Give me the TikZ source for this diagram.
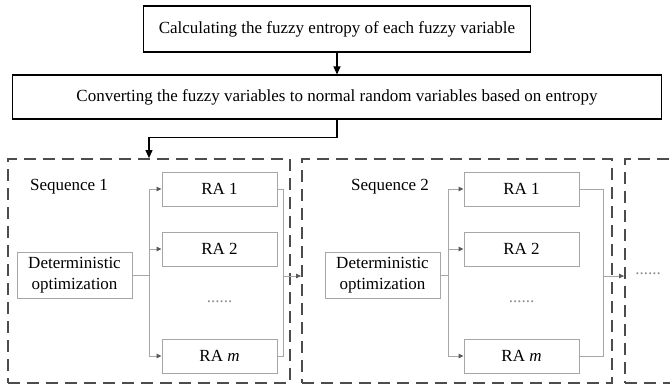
\documentclass[tikz,border=0pt]{standalone}
\usepackage{fontspec}
\setmainfont{Liberation Serif}
\usetikzlibrary{arrows.meta}

\begin{document}
\begin{tikzpicture}
[x=1pt,y=-1pt,
  mainDecorate/.style={draw,line width=1.1pt,minimum height=46pt,inner sep=0pt},%
  seqDecorate/.style={draw=black!70,line width=1.8pt,dash pattern=on 12pt off 7pt,minimum height=224pt,inner sep=0pt},%
  detDecorate/.style={draw=black!35,line width=0.9pt,minimum width=115pt,minimum height=46pt,align=center,inner sep=0pt},%
  raDecorate/.style={draw=black!35,line width=0.9pt,minimum width=115pt,minimum height=34pt,inner sep=0pt},%
  lineDecorate/.style={draw=black!35,line width=0.9pt},%
  arrowDecorate/.style={lineDecorate,-{Triangle[length=5pt,width=4.5pt,color=black!65]}},%
  mainArrow/.style={line width=1.1pt,-{Triangle[length=8pt,width=7pt]}}]
\fontsize{17pt}{21pt}\selectfont
\useasboundingbox (0,0) rectangle (670,389);
%% top boxes
\node (calc) at (337,29) [mainDecorate,minimum width=387pt] {Calculating the fuzzy entropy of each fuzzy variable};
\node (conv) at (337,97) [mainDecorate,minimum width=649pt,minimum height=44pt] {Converting the fuzzy variables to normal random variables based on entropy};
%% dashed sequence frames
\foreach \nodename/\x/\w in {1/149/282, 2/457/310, 3/675/100}
{
  \node (seq\nodename) at (\x,271) [seqDecorate,minimum width=\w pt] {};
}
\draw[mainArrow] (calc) -- (conv);
\draw[mainArrow] (conv.south) -- ++(0,18) -| (seq1.north);
%% inside each sequence
\foreach \s/\detx/\rax/\jx/\ox/\labx in {1/74.5/219.5/149/283/69, 2/382.5/521.5/448/603/390}
{
  \pgfmathtruncatemacro{\nxt}{\s+1}
  \node (lab\s) at (\labx,187) {Sequence \s};
  \node (det\s) at (\detx,275) [detDecorate] {Deterministic\\optimization};
  \foreach \ra/\y/\txt in {1/189/RA 1, 2/249/RA 2, m/356/RA \textit{m}}
  {
    \node (ra\s\ra) at (\rax,\y) [raDecorate] {\txt};
  }
  \node (dots\s) at (\rax,302) [text=black!45] {......};
  \coordinate (j\s) at (\jx,275);
  \coordinate (o\s) at (\ox,276);
  %% fan out
  \draw[lineDecorate] (det\s) -- (j\s);
  \draw[lineDecorate] (ra\s1.west -| j\s) -- (ra\s m.west -| j\s);
  \foreach \ra in {1,2,m}
  {
    \draw[arrowDecorate] (ra\s\ra.west -| j\s) -- (ra\s\ra.west);
  }
  %% collect and pass on
  \draw[lineDecorate] (ra\s1.east) -| (ra\s m.east -| o\s) -- (ra\s m.east);
  \draw[arrowDecorate] (o\s) -- (seq\nxt.west |- o\s);
}
\node (more) at (648,274) [text=black!45] {......};
\end{tikzpicture}
\end{document}
